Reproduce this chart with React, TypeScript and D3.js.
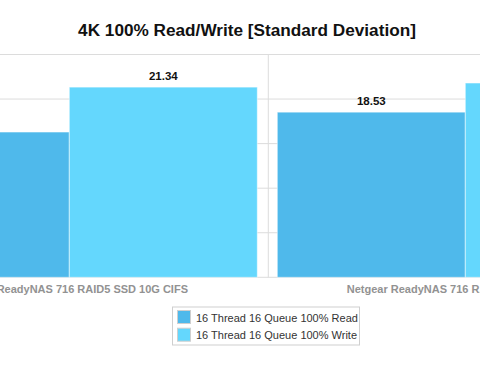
import React from "react";
import * as d3 from "d3";

const categories = [
  "Netgear ReadyNAS 716 RAID5 SSD 10G CIFS",
  "Netgear ReadyNAS 716 RAID5 SSD 10G iSCSI",
];
const seriesNames = ["16 Thread 16 Queue 100% Read", "16 Thread 16 Queue 100% Write"];
const readValues = [16.3, 18.53];
const writeValues = [21.34, 21.8];
const yTicks = [0, 5, 10, 15, 20, 25];
const colors = ["#4fb9eb", "#64d7fd"];

export default function App() {
  const W = 480;
  const H = 367;
  const baseY = 277.3;
  const topY = 54.5;
  const bandWidth = 396;
  const sepX = 268.3;

  const x = d3
    .scaleBand<string>()
    .domain(categories)
    .range([sepX - bandWidth, sepX + bandWidth])
    .paddingInner(0)
    .paddingOuter(0);
  const inner = d3.scaleBand<string>().domain(seriesNames).range([9, 385]).padding(0);
  const y = d3.scaleLinear().domain([0, 25]).range([baseY, topY]);

  const series = [readValues, writeValues];

  return (
    <svg
      width={W}
      height={H}
      style={{ position: "absolute", left: 0, top: 0, fontFamily: "'Liberation Sans', Arial, sans-serif" }}
    >
      <rect width={W} height={H} fill="#ffffff" />
      <text x={247} y={35.7} textAnchor="middle" fontSize={17.2} fontWeight="bold" fill="#111">
        4K 100% Read/Write [Standard Deviation]
      </text>
      {yTicks.map((t) => (
        <line key={t} x1={0} x2={W} y1={y(t)} y2={y(t)} stroke="#dcdcdc" strokeWidth={1} />
      ))}
      {categories.map((c, i) => (
        <line
          key={"sep" + i}
          x1={(x(c) as number) + x.bandwidth()}
          x2={(x(c) as number) + x.bandwidth()}
          y1={topY}
          y2={baseY}
          stroke="#dcdcdc"
          strokeWidth={1}
        />
      ))}
      {categories.map((c, ci) =>
        seriesNames.map((s, si) => {
          const v = series[si][ci];
          const bx = (x(c) as number) + (inner(s) as number);
          const bw = inner.bandwidth();
          return (
            <g key={c + s}>
              <rect
                x={bx}
                y={y(v)}
                width={bw}
                height={baseY - y(v)}
                fill={colors[si]}
                stroke="rgba(255,255,255,0.5)"
                strokeWidth={1}
              />
              <text
                x={bx + bw / 2}
                y={y(v) - 7}
                textAnchor="middle"
                fontSize={11.5}
                fontWeight="bold"
                fill="#111"
              >
                {v.toFixed(2)}
              </text>
            </g>
          );
        })
      )}
      {categories.map((c) => (
        <text
          key={"lab" + c}
          x={(x(c) as number) + x.bandwidth() / 2}
          y={293}
          textAnchor="middle"
          fontSize={11}
          fontWeight="bold"
          fill="#929292"
        >
          {c}
        </text>
      ))}
      <g>
        <rect x={172.5} y={307} width={187} height={38} fill="#fff" stroke="#cfcfcf" strokeWidth={1} />
        {seriesNames.map((s, i) => (
          <g key={"leg" + s} transform={`translate(0, ${i * 17.7})`}>
            <rect x={177.5} y={310.5} width={13} height={13} fill={colors[i]} stroke="#cfcfcf" strokeWidth={1} />
            <text x={196} y={321.5} fontSize={11} fill="#333">
              {s}
            </text>
          </g>
        ))}
      </g>
    </svg>
  );
}
